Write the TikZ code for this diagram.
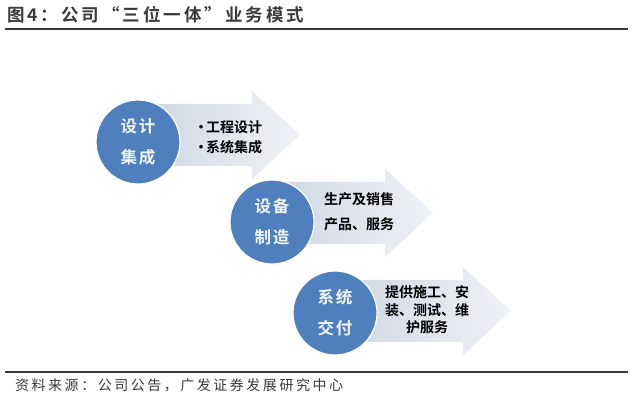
\documentclass[tikz,border=0pt]{standalone}
\usepackage{fontspec}
\newfontfamily\cjk{Noto Sans CJK SC}[BoldFont={Noto Sans CJK SC Bold}]
\definecolor{stageblue}{RGB}{79,128,189}
\definecolor{arrowleft}{RGB}{207,214,227}
\definecolor{arrowright}{RGB}{239,242,246}
\definecolor{rulegray}{RGB}{58,58,58}
\begin{document}
\begin{tikzpicture}[x=1pt, y=-1pt,
		stage/.style={circle, fill=stageblue, draw=white, line width=1.2pt,
				minimum size=84pt, inner sep=0pt, text=white!92!stageblue, align=center,
				font=\cjk\bfseries\fontsize{16.5}{31}\selectfont\addfontfeature{LetterSpace=12}},
		note/.style={align=center, inner sep=0pt, font=\cjk\bfseries\fontsize{14}{20}\selectfont}]
	\useasboundingbox (0,0) rectangle (640,403);
	\node[anchor=west, inner sep=0pt, text=rulegray,
		font=\cjk\bfseries\fontsize{17.5}{17.5}\selectfont\addfontfeature{LetterSpace=17}]
		(title) at (7,15) {图4：公司“三位一体”业务模式};
	\coordinate (tl) at (5,29);
	\coordinate (tr) at (628,29);
	\draw[rulegray, line width=2pt] (tl) -- (tr);
	\foreach \l/\b/\t/\c in {140/252/300/135, 272/385/433/213, 335/463/511/311}{
		\shade[left color=arrowleft, right color=arrowright]
		(\l,\c-31) -- (\b,\c-31) -- (\b,\c-44) -- (\t,\c) -- (\b,\c+44)
		-- (\b,\c+31) -- (\l,\c+31) -- cycle;
	}
	\node[stage] (design) at (138,142) {设计\\集成};
	\node[stage] (equip) at (272,222) {设备\\制造};
	\node[stage] (deliver) at (335,313) {系统\\交付};
	\node[note, align=left] (designnote) at (228,137)
		{•\kern-2pt 工程设计\\•\kern-2pt 系统集成};
	\node[note, font=\cjk\bfseries\fontsize{14}{25}\selectfont]
		(equipnote) at (359,212) {生产及销售\\产品、服务};
	\node[note, font=\cjk\bfseries\fontsize{14}{17.5}\selectfont]
		(delivernote) at (427,310) {提供施工、安\\装、测试、维\\护服务};
	\coordinate (bl) at (5,372);
	\coordinate (br) at (628,372);
	\draw[rulegray, line width=2pt] (bl) -- (br);
	\node[anchor=west, inner sep=0pt, text=rulegray,
		font=\cjk\fontsize{14}{14}\selectfont\addfontfeature{LetterSpace=18}]
		(source) at (15,385) {资料来源：公司公告，广发证券发展研究中心};
\end{tikzpicture}
\end{document}
